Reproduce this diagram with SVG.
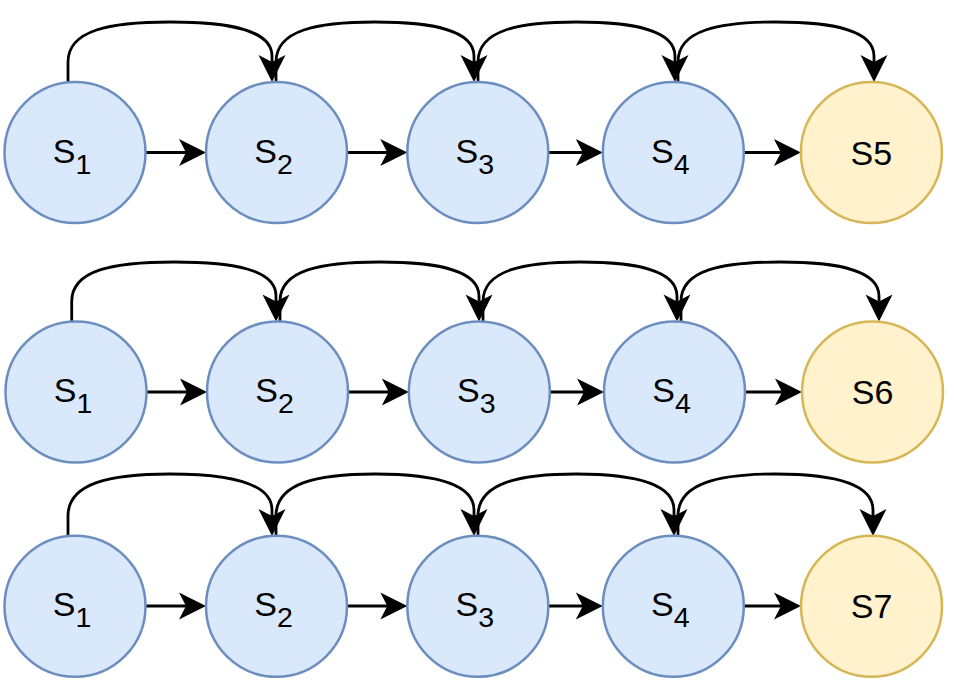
<svg xmlns="http://www.w3.org/2000/svg" width="957" height="699" viewBox="0 0 957 699">
  <defs>
    <style>
      .state { fill: #dae8fc; stroke: #6c8ebf; stroke-width: 2.5; }
      .final { fill: #fff2cc; stroke: #d6b656; stroke-width: 2.5; }
      .lbl { font-family: "Liberation Sans", Arial, sans-serif; font-size: 34px; fill: #000; text-anchor: middle; }
      .sub { font-size: 28.5px; }
      .edge { fill: none; stroke: #000; stroke-width: 2.8; marker-end: url(#ah); }
    </style>
    <marker id="ah" markerUnits="userSpaceOnUse" orient="auto" overflow="visible" markerWidth="1" markerHeight="1" refX="0" refY="0">
      <path d="M12,0 L-15,-13.5 L-8,0 L-15,13.5 Z" fill="#000"/>
    </marker>
  </defs>
  <rect width="957" height="699" fill="#fff"/>

  <!-- connectors -->
  <g id="edges">
    <!-- row 1: straight links -->
    <path class="edge" d="M145.5,152.5 L194,152.5"/>
    <path class="edge" d="M347,152.5 L395.3,152.5"/>
    <path class="edge" d="M548.3,152.5 L590.8,152.5"/>
    <path class="edge" d="M743.8,152.5 L788.9,152.5"/>
    <!-- row 1: skip links -->
    <path class="edge" d="M68,82 L68,62 C68,30 110,22 170,22 C230,22 272,30 272,56 L272,70"/>
    <path class="edge" d="M276,82 L276,62 C276,30 317,22 375,22 C433,22 474,30 474,56 L474,70"/>
    <path class="edge" d="M478,82 L478,62 C478,30 519,22 576.5,22 C634,22 675,30 675,56 L675,70"/>
    <path class="edge" d="M678,82 L678,62 C678,30 719,22 776,22 C833,22 874,30 874,56 L874,70"/>

    <!-- row 2: straight links -->
    <path class="edge" d="M146.5,392 L195,392"/>
    <path class="edge" d="M348,392 L396.8,392"/>
    <path class="edge" d="M549.8,392 L592,392"/>
    <path class="edge" d="M745,392 L790,392"/>
    <!-- row 2: skip links -->
    <path class="edge" d="M71.7,321.5 L71.7,301.5 C71.7,270 113,262 174,262 C235,262 276,270 276,296 L276,309.5"/>
    <path class="edge" d="M280,321.5 L280,301.5 C280,270 321,262 379.5,262 C438,262 479,270 479,296 L479,309.5"/>
    <path class="edge" d="M483,321.5 L483,301.5 C483,270 524,262 580,262 C636,262 677,270 677,296 L677,309.5"/>
    <path class="edge" d="M681,321.5 L681,301.5 C681,270 722,262 780,262 C838,262 879,270 879,296 L879,309.5"/>

    <!-- row 3: straight links -->
    <path class="edge" d="M145.5,606 L194,606"/>
    <path class="edge" d="M347,606 L395.3,606"/>
    <path class="edge" d="M548.3,606 L590.8,606"/>
    <path class="edge" d="M743.8,606 L789,606"/>
    <!-- row 3: skip links -->
    <path class="edge" d="M68,536 L68,516 C68,483 110,474 170,474 C230,474 272,483 272,510 L272,524"/>
    <path class="edge" d="M276,536 L276,516 C276,483 317,474 375,474 C433,474 474,483 474,510 L474,524"/>
    <path class="edge" d="M478,536 L478,516 C478,483 519,474 576,474 C633,474 674,483 674,510 L674,524"/>
    <path class="edge" d="M678,536 L678,516 C678,483 719,474 775.5,474 C832,474 873,483 873,510 L873,524"/>
  </g>

  <!-- row 1 -->
  <g id="r1s1"><circle class="state" cx="75" cy="152.5" r="70.5"/><text class="lbl" x="72" y="162.5">S<tspan class="sub" dy="11">1</tspan></text></g>
  <g id="r1s2"><circle class="state" cx="276.5" cy="152.5" r="70.5"/><text class="lbl" x="273.5" y="162.5">S<tspan class="sub" dy="11">2</tspan></text></g>
  <g id="r1s3"><circle class="state" cx="477.8" cy="152.5" r="70.5"/><text class="lbl" x="474.8" y="162.5">S<tspan class="sub" dy="11">3</tspan></text></g>
  <g id="r1s4"><circle class="state" cx="673.3" cy="152.5" r="70.5"/><text class="lbl" x="670.3" y="162.5">S<tspan class="sub" dy="11">4</tspan></text></g>
  <g id="r1s5"><circle class="final" cx="871.4" cy="152.5" r="70.5"/><text class="lbl" x="871.4" y="164.5">S5</text></g>

  <!-- row 2 -->
  <g id="r2s1"><circle class="state" cx="76" cy="392" r="70.5"/><text class="lbl" x="73" y="402">S<tspan class="sub" dy="11">1</tspan></text></g>
  <g id="r2s2"><circle class="state" cx="277.5" cy="392" r="70.5"/><text class="lbl" x="274.5" y="402">S<tspan class="sub" dy="11">2</tspan></text></g>
  <g id="r2s3"><circle class="state" cx="479.3" cy="392" r="70.5"/><text class="lbl" x="476.3" y="402">S<tspan class="sub" dy="11">3</tspan></text></g>
  <g id="r2s4"><circle class="state" cx="674.5" cy="392" r="70.5"/><text class="lbl" x="671.5" y="402">S<tspan class="sub" dy="11">4</tspan></text></g>
  <g id="r2s6"><circle class="final" cx="872.5" cy="392" r="70.5"/><text class="lbl" x="872.5" y="404">S6</text></g>

  <!-- row 3 -->
  <g id="r3s1"><circle class="state" cx="75" cy="606.3" r="70.5"/><text class="lbl" x="72" y="616.3">S<tspan class="sub" dy="11">1</tspan></text></g>
  <g id="r3s2"><circle class="state" cx="276.5" cy="606.3" r="70.5"/><text class="lbl" x="273.5" y="616.3">S<tspan class="sub" dy="11">2</tspan></text></g>
  <g id="r3s3"><circle class="state" cx="477.8" cy="606.3" r="70.5"/><text class="lbl" x="474.8" y="616.3">S<tspan class="sub" dy="11">3</tspan></text></g>
  <g id="r3s4"><circle class="state" cx="673.3" cy="606.3" r="70.5"/><text class="lbl" x="670.3" y="616.3">S<tspan class="sub" dy="11">4</tspan></text></g>
  <g id="r3s7"><circle class="final" cx="871.5" cy="606.3" r="70.5"/><text class="lbl" x="871.5" y="618.3">S7</text></g>
</svg>
